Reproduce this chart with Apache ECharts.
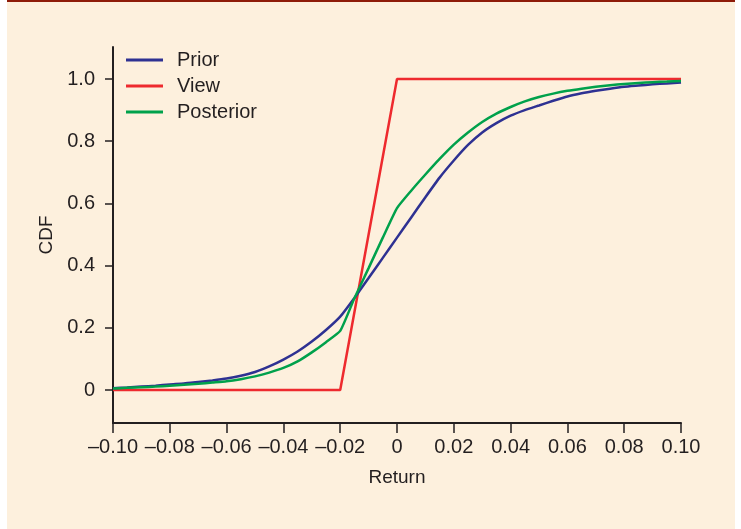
<!DOCTYPE html>
<html>
<head>
<meta charset="utf-8">
<script src="https://cdn.jsdelivr.net/npm/echarts@6/dist/echarts.min.js"></script>
<style>
  html, body { margin: 0; padding: 0; background: #ffffff; }
  #frame {
    position: absolute; left: 7px; top: 0; width: 728px; height: 527px;
    background: #fdf0dd; border-top: 2px solid #8e1b08;
  }
  #chart { position: absolute; left: -7px; top: -2px; width: 741px; height: 529px; }
</style>
</head>
<body>
<div id="frame"><div id="chart"></div></div>
<script>
// return grid (x) shared by the prior and posterior curves
const returns = [
  -0.100, -0.095, -0.090, -0.085, -0.080, -0.075, -0.070, -0.065, -0.060, -0.055,
  -0.050, -0.045, -0.040, -0.035, -0.030, -0.025, -0.020, -0.015, -0.010, -0.005,
  0.000, 0.005, 0.010, 0.015, 0.020, 0.025, 0.030, 0.035, 0.040, 0.045,
  0.050, 0.055, 0.060, 0.065, 0.070, 0.075, 0.080, 0.085, 0.090, 0.095, 0.100
]
const priorCdf = [
  0.006, 0.008, 0.011, 0.014, 0.018, 0.021, 0.026, 0.031, 0.037, 0.046,
  0.058, 0.076, 0.098, 0.124, 0.156, 0.193, 0.236, 0.296, 0.360, 0.425,
  0.490, 0.555, 0.620, 0.683, 0.738, 0.788, 0.828, 0.858, 0.882, 0.900,
  0.915, 0.930, 0.944, 0.954, 0.962, 0.969, 0.975, 0.979, 0.983, 0.986, 0.989
]
const posteriorCdf = [
  0.005, 0.007, 0.009, 0.011, 0.014, 0.017, 0.020, 0.024, 0.028, 0.035,
  0.044, 0.056, 0.071, 0.092, 0.121, 0.154, 0.190, 0.295, 0.392, 0.490,
  0.585, 0.641, 0.693, 0.743, 0.789, 0.828, 0.862, 0.889, 0.910, 0.928,
  0.942, 0.953, 0.962, 0.969, 0.975, 0.980, 0.984, 0.987, 0.990, 0.992, 0.994
]
// view: uniform on [-0.02, 0]
const viewReturns = [-0.10, -0.02, 0.00, 0.10]
const viewCdf = [0, 0, 1, 1]
const yTicks = [0, 0.2, 0.4, 0.6, 0.8, 1.0]

const ink = '#231f20'
const font = 'Liberation Sans, Arial, Helvetica, sans-serif'

const zip = (xs, ys) => xs.map((x, i) => [x, ys[i]])

const chart = echarts.init(document.getElementById('chart'))
chart.setOption({
  backgroundColor: 'transparent',
  animation: false,
  textStyle: { fontFamily: font, color: ink },
  grid: { left: 113, right: 60, top: 47, bottom: 106 },
  legend: {
    orient: 'vertical',
    left: 121,
    top: 45,
    icon: 'rect',
    itemWidth: 37,
    itemHeight: 3,
    itemGap: 6,
    textStyle: { fontSize: 20, color: ink, fontFamily: font, padding: [0, 0, 0, 9] },
    data: ['Prior', 'View', 'Posterior']
  },
  xAxis: {
    type: 'value',
    min: -0.1,
    max: 0.1,
    interval: 0.02,
    name: 'Return',
    nameLocation: 'middle',
    nameGap: 45,
    nameTextStyle: { fontSize: 19, color: ink, fontFamily: font },
    axisLine: { onZero: false, lineStyle: { color: ink, width: 2 } },
    axisTick: { length: 10, lineStyle: { color: ink, width: 1.5 } },
    axisLabel: {
      fontSize: 20,
      color: ink,
      margin: 14,
      formatter: v => {
        if (Math.abs(v) < 1e-9) return '0'
        return (v < 0 ? '\u2013' : '') + Math.abs(v).toFixed(2)
      }
    },
    splitLine: { show: false }
  },
  yAxis: {
    type: 'value',
    min: -0.106,
    max: 1.103,
    name: 'CDF',
    nameLocation: 'middle',
    nameGap: 55,
    nameTextStyle: { fontSize: 19, color: ink, fontFamily: font },
    axisLine: { onZero: false, lineStyle: { color: ink, width: 2 } },
    axisTick: { length: 8, customValues: yTicks, lineStyle: { color: ink, width: 1.5 } },
    axisLabel: {
      fontSize: 20,
      color: ink,
      margin: 18,
      customValues: yTicks,
      formatter: v => (Math.abs(v) < 1e-9 ? '0' : v.toFixed(1))
    },
    splitLine: { show: false }
  },
  series: [
    {
      name: 'Prior',
      type: 'line',
      showSymbol: false,
      symbol: 'none',
      smooth: 0.15,
      color: '#2e3192',
      lineStyle: { width: 2.5 },
      data: zip(returns, priorCdf),
      z: 2
    },
    {
      name: 'View',
      type: 'line',
      showSymbol: false,
      symbol: 'none',
      color: '#ee2a2e',
      lineStyle: { width: 2.5 },
      data: zip(viewReturns, viewCdf),
      z: 1
    },
    {
      name: 'Posterior',
      type: 'line',
      showSymbol: false,
      symbol: 'none',
      smooth: 0.15,
      color: '#00a14b',
      lineStyle: { width: 2.5 },
      data: zip(returns, posteriorCdf),
      z: 3
    }
  ]
})
</script>
</body>
</html>
